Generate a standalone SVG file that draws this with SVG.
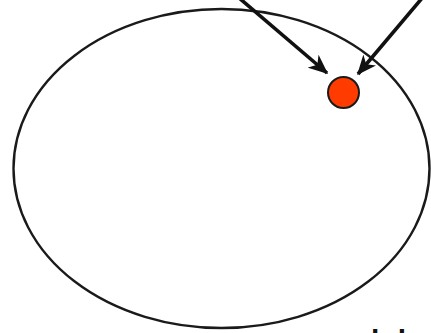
<svg xmlns="http://www.w3.org/2000/svg" width="431" height="333" viewBox="0 0 431 333">
<defs>
<style>
.outline{fill:none;stroke:#1a1a1a;stroke-width:2.4}
.conn{stroke:#111;stroke-width:3.6;fill:none}
.dot{fill:#ff3b00;stroke:#1a1a1a;stroke-width:2}
.lbl{font-family:"Liberation Sans",Arial,sans-serif;font-weight:bold;font-size:30px;fill:#111}
</style>
<marker id="ah" viewBox="0 0 14 12" refX="13" refY="6" markerWidth="5.5" markerHeight="4.7" orient="auto" markerUnits="strokeWidth">
<path d="M0,0 L14,6 L0,12 L4,6 Z" fill="#111"/>
</marker>
</defs>
<rect width="431" height="333" fill="#fff"/>
<g id="region">
<ellipse class="outline" cx="221.5" cy="168.5" rx="208" ry="159.5"/>
</g>
<g id="connectors">
<line class="conn" x1="238" y1="-3" x2="327" y2="73" marker-end="url(#ah)"/>
<line class="conn" x1="423" y1="-3" x2="358" y2="74" marker-end="url(#ah)"/>
</g>
<g id="point">
<circle class="dot" cx="343.5" cy="92.5" r="15.5"/>
</g>
<g id="caption">
<text class="lbl" x="371" y="351">lul</text>
</g>
</svg>
